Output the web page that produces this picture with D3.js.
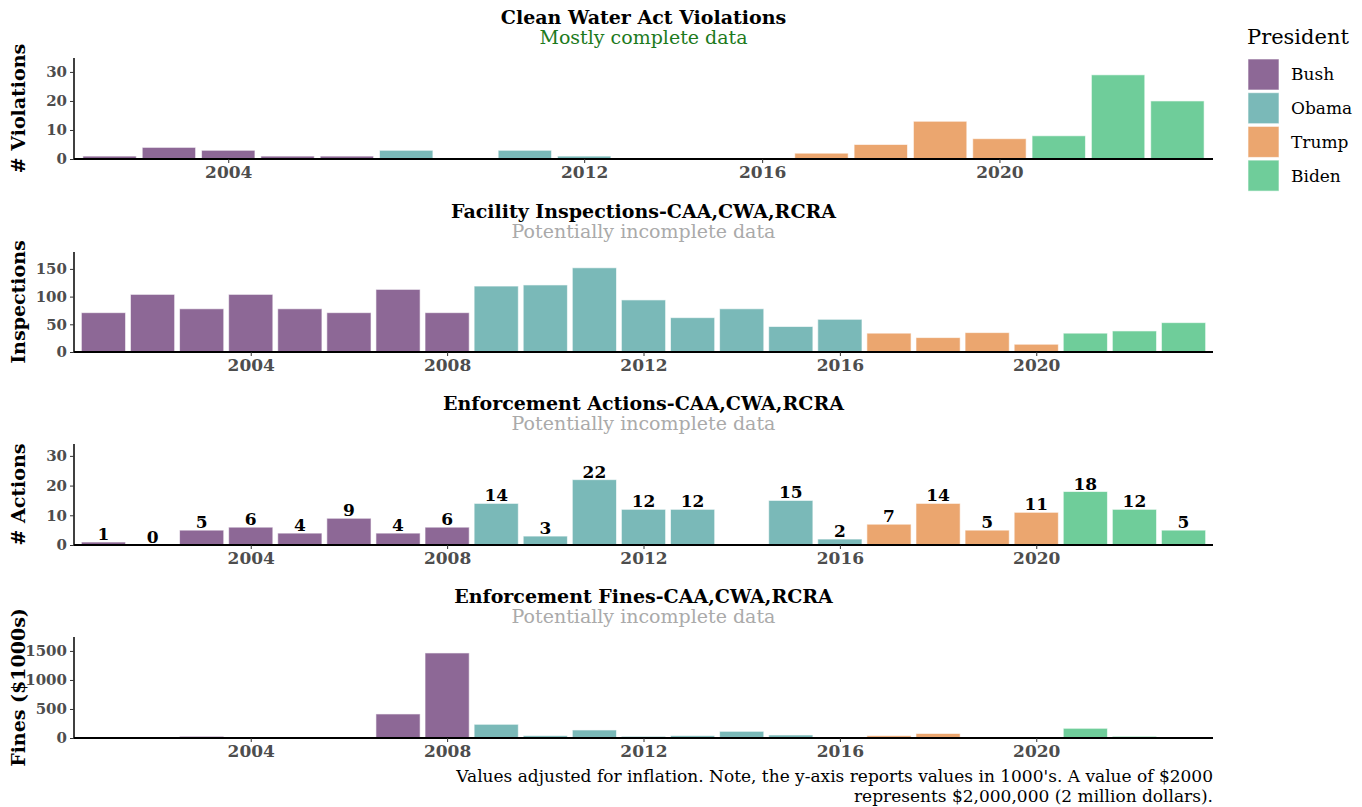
<!DOCTYPE html>
<html>
<head>
<meta charset="utf-8">
<script src="https://cdn.jsdelivr.net/npm/d3@7"></script>
<style>
  body { margin: 0; background: #fff; }
  text { font-family: "DejaVu Serif", serif; }
</style>
</head>
<body>
<div id="chart"></div>
<script>
// presidents and their colours
const presidents = ["Bush", "Obama", "Trump", "Biden"];
const presidentColors = ["#8d6896", "#7ab9b8", "#eba66f", "#6fcd9a"];
const termStart = [2001, 2009, 2017, 2021];

// panel 1 only has the years that appear in the violations data
const violationYears = ["2002", "2003", "2004", "2005", "2007", "2009", "2010", "2011", "2012", "2013",
  "2015", "2016", "2017", "2018", "2019", "2020", "2021", "2022", "2023"];
const violations = [1, 4, 3, 1, 1, 3, 0, 3, 1, 0, 0, 0, 2, 5, 13, 7, 8, 29, 20];

// panels 2-4
const years = ["2001", "2002", "2003", "2004", "2005", "2006", "2007", "2008", "2009", "2010", "2011", "2012",
  "2013", "2014", "2015", "2016", "2017", "2018", "2019", "2020", "2021", "2022", "2023"];
const inspections = [71, 104, 78, 104, 78, 71, 113, 71, 119, 121, 152, 94, 62, 78, 46, 59, 34, 26, 35, 14, 34, 38, 53];
const actions = [1, 0, 5, 6, 4, 9, 4, 6, 14, 3, 22, 12, 12, null, 15, 2, 7, 14, 5, 11, 18, 12, 5];
const fines = [null, null, 29, null, null, 12, 414, 1465, 236, 40, 138, 29, 40, 115, 52, null, 40, 78, null, 17, 167, 29, null];

const xTickLabels = ["2004", "2008", "2012", "2016", "2020"];

const panels = [
  { title: "Clean Water Act Violations", subtitle: "Mostly complete data", subColor: "#1d7a1d",
    ylabel: "# Violations", cats: violationYears, values: violations, yMax: 34.8, yTicks: [0, 10, 20, 30], labels: false },
  { title: "Facility Inspections-CAA,CWA,RCRA", subtitle: "Potentially incomplete data", subColor: "#aaaaaa",
    ylabel: "Inspections", cats: years, values: inspections, yMax: 180.5, yTicks: [0, 50, 100, 150], labels: false },
  { title: "Enforcement Actions-CAA,CWA,RCRA", subtitle: "Potentially incomplete data", subColor: "#aaaaaa",
    ylabel: "# Actions", cats: years, values: actions, yMax: 34, yTicks: [0, 10, 20, 30], labels: true },
  { title: "Enforcement Fines-CAA,CWA,RCRA", subtitle: "Potentially incomplete data", subColor: "#aaaaaa",
    ylabel: "Fines ($1000s)", cats: years, values: fines, yMax: 1740, yTicks: [0, 500, 1000, 1500], labels: false }
];

function presidentOf(year) {
  let idx = 0;
  termStart.forEach((s, i) => { if (+year >= s) idx = i; });
  return idx;
}

function drawChart() {
  const W = 1362, H = 807;
  const left = 74, right = 1213;
  // each panel: top of plot area, baseline
  const plotTops = [58, 252, 444, 637];
  const plotBottoms = [159, 352, 545, 738];

  const svg = d3.select("#chart").append("svg")
    .attr("width", W).attr("height", H);

  panels.forEach(function (p, pi) {
    const top = plotTops[pi], bottom = plotBottoms[pi];
    const g = svg.append("g");

    // discrete x with ggplot-like 0.6 expansion
    const x = d3.scalePoint().domain(p.cats).range([left, right]).padding(0.6);
    const bw = x.step() * 0.9;
    const y = d3.scaleLinear().domain([0, p.yMax]).range([bottom, top]);

    const data = p.cats.map((c, i) => ({ year: c, value: p.values[i], pres: presidentOf(c) }));

    // titles
    g.append("text")
      .attr("x", (left + right) / 2).attr("y", top - 34)
      .attr("text-anchor", "middle")
      .style("font-size", "19px").style("font-weight", "bold").style("fill", "#000")
      .text(p.title);
    g.append("text")
      .attr("x", (left + right) / 2).attr("y", top - 14)
      .attr("text-anchor", "middle")
      .style("font-size", "19px").style("fill", p.subColor)
      .text(p.subtitle);

    // bars
    g.selectAll("rect.bar")
      .data(data.filter(d => d.value != null && d.value > 0))
      .join("rect")
      .attr("class", "bar")
      .attr("x", d => x(d.year) - bw / 2)
      .attr("width", bw)
      .attr("y", d => y(d.value))
      .attr("height", d => y(0) - y(d.value))
      .style("fill", d => presidentColors[d.pres])
      .style("stroke", "rgba(255,255,255,0.6)")
      .style("stroke-width", 1);

    // value labels
    if (p.labels) {
      g.selectAll("text.val")
        .data(data.filter(d => d.value != null))
        .join("text")
        .attr("class", "val")
        .attr("x", d => x(d.year))
        .attr("y", d => y(d.value) - 2)
        .attr("text-anchor", "middle")
        .style("font-size", "17px").style("font-weight", "bold").style("fill", "#000")
        .text(d => d.value);
    }

    // y axis
    const yAxis = g.append("g")
      .attr("transform", `translate(${left},0)`)
      .call(d3.axisLeft(y).tickValues(p.yTicks).tickFormat(d3.format("d")).tickSize(4).tickPadding(3));
    yAxis.select(".domain").attr("d", `M0,${top}V${bottom}`).style("stroke", "#000").style("stroke-width", 1.5);
    yAxis.selectAll(".tick line").style("stroke", "#333");
    yAxis.selectAll(".tick text")
      .style("font-family", "DejaVu Serif, serif")
      .style("font-size", "15px").style("font-weight", "bold").style("fill", "#4d4d4d");

    // x axis
    const xAxis = g.append("g")
      .attr("transform", `translate(0,${bottom})`)
      .call(d3.axisBottom(x).tickValues(xTickLabels.filter(t => p.cats.includes(t))).tickSize(4).tickPadding(3));
    xAxis.select(".domain").attr("d", `M${left},0H${right}`).style("stroke", "#000").style("stroke-width", 2);
    xAxis.selectAll(".tick line").style("stroke", "#333");
    xAxis.selectAll(".tick text")
      .style("font-family", "DejaVu Serif, serif")
      .style("font-size", "17px").style("font-weight", "bold").style("fill", "#4d4d4d");

    // y label
    g.append("text")
      .attr("transform", `translate(25,${(top + bottom) / 2}) rotate(-90)`)
      .attr("text-anchor", "middle")
      .style("font-size", "19px").style("font-weight", "bold").style("fill", "#000")
      .text(p.ylabel);
  });

  // legend
  const legend = svg.append("g").attr("transform", "translate(1247,0)");
  legend.append("text")
    .attr("x", 0).attr("y", 44)
    .style("font-size", "21px").style("fill", "#000")
    .text("President");
  presidents.forEach(function (name, i) {
    const yy = 59 + i * 33.7;
    legend.append("rect")
      .attr("x", 1).attr("y", yy).attr("width", 31).attr("height", 31)
      .style("fill", presidentColors[i])
      .style("stroke", "rgba(255,255,255,0.6)");
    legend.append("text")
      .attr("x", 44).attr("y", yy + 15.5)
      .attr("dy", "0.35em")
      .style("font-size", "17px").style("fill", "#000")
      .text(name);
  });

  // footnote
  const note = svg.append("text")
    .attr("text-anchor", "end")
    .style("font-size", "17px").style("fill", "#000");
  note.append("tspan").attr("x", right).attr("y", 782)
    .text("Values adjusted for inflation. Note, the y-axis reports values in 1000's. A value of $2000");
  note.append("tspan").attr("x", right).attr("y", 802)
    .text("represents $2,000,000 (2 million dollars).");
}

drawChart();
</script>
</body>
</html>
